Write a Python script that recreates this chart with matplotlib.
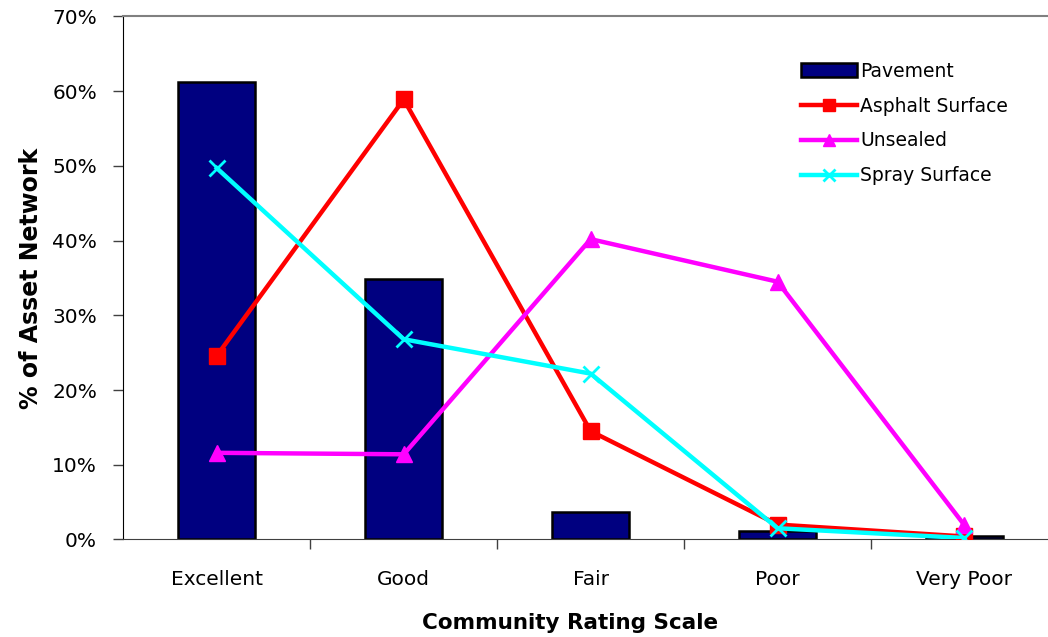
import matplotlib.pyplot as plt
from matplotlib.ticker import FuncFormatter, FixedLocator

# rating categories and share of each asset type (percent)
ratings = ['Excellent', 'Good', 'Fair', 'Poor', 'Very Poor']
pavement = [61.2, 34.8, 3.7, 1.2, 0.5]
asphalt = [24.6, 58.9, 14.5, 2.0, 0.4]
unsealed = [11.6, 11.4, 40.2, 34.5, 1.9]
spray = [49.7, 26.8, 22.2, 1.5, 0.2]

plt.rcParams['font.family'] = ['DejaVu Sans']

fig = plt.figure(figsize=(10.48, 6.37), dpi=100)
ax = fig.add_axes([0.1177, 0.1531, 0.8918, 0.821])

x = list(range(len(ratings)))
bars = ax.bar(x, pavement, width=0.41, color='#000080', edgecolor='black', linewidth=1.8,
              label='Pavement', zorder=2)
l1, = ax.plot(x, asphalt, color='#ff0000', lw=3.2, marker='s', ms=12, label='Asphalt Surface', zorder=3)
l2, = ax.plot(x, unsealed, color='#ff00ff', lw=3.2, marker='^', ms=12, label='Unsealed', zorder=4)
l3, = ax.plot(x, spray, color='#00ffff', lw=3.2, marker='x', ms=12, mew=2, label='Spray Surface', zorder=5)

ax.set_xlim(-0.5, 4.5)
ax.set_ylim(0, 70)
ax.set_yticks(range(0, 71, 10))
ax.yaxis.set_major_formatter(FuncFormatter(lambda v, p: '%d%%' % v))

# category labels centred, ticks at the boundaries
ax.xaxis.set_major_locator(FixedLocator([0.5, 1.5, 2.5, 3.5]))
ax.xaxis.set_major_formatter(FuncFormatter(lambda v, p: ''))
ax.xaxis.set_minor_locator(FixedLocator(x))
ax.set_xticklabels(ratings, minor=True)
ax.tick_params(axis='x', which='minor', length=0, pad=22, labelsize=14.5)
ax.tick_params(axis='x', which='major', length=7, width=1, color='#404040', direction='out')
ax.tick_params(axis='y', length=7, width=1, labelsize=14.5, pad=12, color='#404040')

ax.spines['right'].set_visible(False)
ax.spines['top'].set_color('#808080')
ax.spines['top'].set_linewidth(1.5)
ax.spines['left'].set_color('black')
ax.spines['bottom'].set_color('#404040')

ax.set_xlabel('Community Rating Scale', fontsize=15.5, fontweight='bold')
ax.xaxis.set_label_coords(0.478, -0.14)
ax.set_ylabel('% of Asset Network', fontsize=17, fontweight='bold')
ax.yaxis.set_label_coords(-0.086, 0.5)

leg = ax.legend([bars, l1, l2, l3], ['Pavement', 'Asphalt Surface', 'Unsealed', 'Spray Surface'],
                loc='upper left', bbox_to_anchor=(0.707, 0.946), frameon=False,
                fontsize=13.5, handlelength=3, handletextpad=0.15, labelspacing=0.85,
                markerscale=0.7)

fig.savefig('out.png', dpi=100)
